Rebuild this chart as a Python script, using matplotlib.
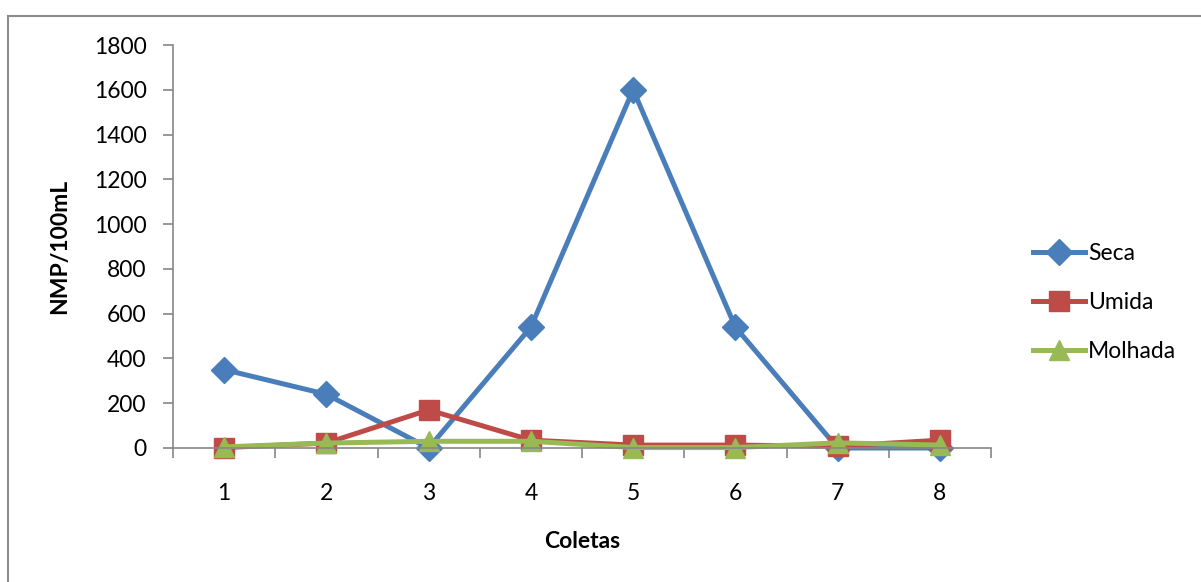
import matplotlib
matplotlib.use('Agg')
import matplotlib.pyplot as plt
from matplotlib.lines import Line2D

coletas = [1, 2, 3, 4, 5, 6, 7, 8]
seca = [350, 240, 0, 540, 1600, 540, 0, 0]
umida = [2, 22, 170, 35, 13, 13, 8, 35]
molhada = [5, 22, 30, 30, 2, 2, 23, 13]

plt.rcParams['font.family'] = ['Lato', 'DejaVu Sans']
fs = 16.5

fig = plt.figure(figsize=(12.01, 5.82), dpi=100)
# chart area frame (only top and left edges fall inside the image)
W, H = 1201.0, 582.0
fig.lines.append(Line2D([7.5 / W, 1.0], [1 - 15.5 / H] * 2, transform=fig.transFigure,
                        color='#8c8c8c', lw=1.5))
fig.lines.append(Line2D([7.5 / W] * 2, [0.0, 1 - 15.5 / H], transform=fig.transFigure,
                        color='#8c8c8c', lw=1.5))

ax = fig.add_axes([173 / W, 1 - 448 / H, 818 / W, 403 / H])

ax.plot(coletas, seca, color='#4a7ebb', lw=3.6, marker='D', ms=13, label='Seca')
ax.plot(coletas, umida, color='#be4b48', lw=3.6, marker='s', ms=14, label='Umida')
ax.plot(coletas, molhada, color='#98b954', lw=3.6, marker='^', ms=15, label='Molhada')

ax.set_xlim(0.5, 8.5)
ax.set_ylim(0, 1800)
ax.set_yticks(range(0, 1801, 200))
ax.set_xticks(coletas)
ax.set_xticks([c - 0.5 for c in coletas] + [8.5], minor=True)
ax.tick_params(axis='x', which='major', length=0, pad=25, labelsize=fs)
ax.tick_params(axis='x', which='minor', length=7, width=1.2, color='#868686')
ax.tick_params(axis='y', length=7, width=1.2, color='#868686', pad=12, labelsize=fs)
for s in ['top', 'right']:
    ax.spines[s].set_visible(False)
for s in ['left', 'bottom']:
    ax.spines[s].set_color('#868686')
    ax.spines[s].set_linewidth(1.2)
for ln in ax.lines:
    ln.set_clip_on(False)

ax.set_xlabel('Coletas', fontsize=fs, fontweight='bold', labelpad=20)
ax.set_ylabel('NMP/100mL', fontsize=fs, fontweight='bold', labelpad=17)

ax.legend(loc='center left', bbox_to_anchor=(1.051, 0.362), frameon=False, fontsize=fs,
          handlelength=2.3, labelspacing=1.22, handletextpad=0.12,
          borderaxespad=0, borderpad=0)

fig.savefig('out.png', dpi=100)
